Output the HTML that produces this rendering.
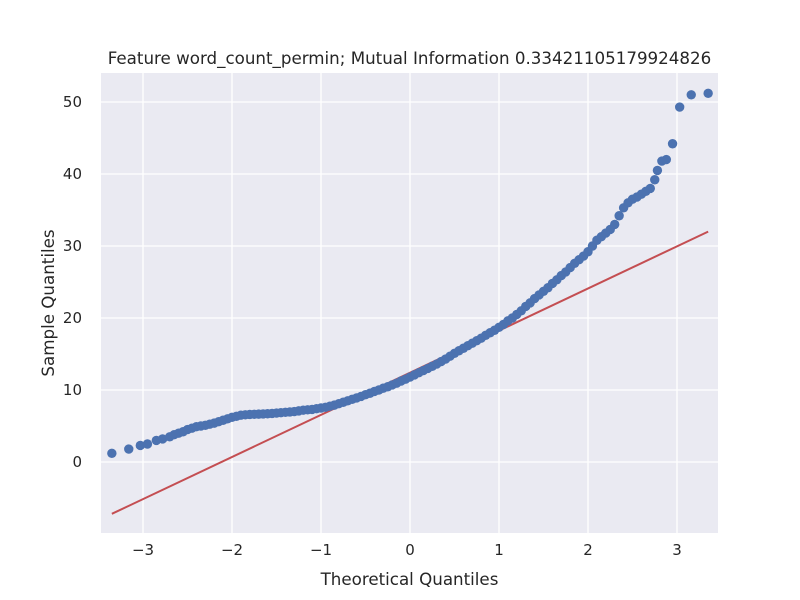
<!DOCTYPE html>
<html><head><meta charset="utf-8"><style>body{margin:0;background:#fff}svg{display:block;font-family:"DejaVu Sans","Liberation Sans",sans-serif}</style></head>
<body>
<svg id="chart" width="800" height="600" viewBox="0 0 800 600">
<rect x="0" y="0" width="800" height="600" fill="#fff"/>
<rect x="101" y="73" width="617" height="460" fill="#eaeaf2"/>
<g id="grid"></g>
<g id="ticks"></g>
<line id="refline" stroke="#c44e52" stroke-width="2"/>
<g id="pts"></g>
<text x="409.5" y="64" text-anchor="middle" font-size="16.7" fill="#262626">Feature word_count_permin; Mutual Information 0.33421105179924826</text>
<text x="409.5" y="585" text-anchor="middle" font-size="16.7" fill="#262626">Theoretical Quantiles</text>
<text transform="translate(54,303) rotate(-90)" text-anchor="middle" font-size="16.7" fill="#262626">Sample Quantiles</text>
</svg>
<script>
const xTicks=[-3,-2,-1,0,1,2,3];
const yTicks=[0,10,20,30,40,50];
const lineStart=[-3.35,-7.2];
const lineEnd=[3.35,32.0];
const theoretical=[-3.35,-3.16,-3.03,-2.95,-2.85,-2.78,-2.7,-2.65,-2.6,-2.55,
-2.5,-2.45,-2.4,-2.35,-2.3,-2.25,-2.2,-2.15,-2.1,-2.05,-2.0,-1.95,-1.9,-1.85,-1.8,-1.75,-1.7,-1.65,-1.6,-1.55,-1.5,-1.45,-1.4,-1.35,-1.3,-1.25,-1.2,-1.15,-1.1,-1.05,-1.0,-0.95,-0.9,-0.85,-0.8,-0.75,-0.7,-0.65,-0.6,-0.55,-0.5,-0.45,-0.4,-0.35,-0.3,-0.25,-0.2,-0.15,-0.1,-0.05,0,0.05,0.1,0.15,0.2,0.25,0.3,0.35,0.4,0.45,0.5,0.55,0.6,0.65,0.7,0.75,0.8,0.85,0.9,0.95,1.0,1.05,1.1,1.15,1.2,1.25,1.3,1.35,1.4,1.45,1.5,1.55,1.6,1.65,1.7,1.75,1.8,1.85,1.9,1.95,2.0,2.05,2.1,2.15,2.2,2.25,2.3,2.35,2.4,2.45,2.5,2.55,2.6,2.65,2.7,2.75,2.78,2.83,2.88,2.95,3.03,3.16,3.35];
const sample=[1.2,1.8,2.3,2.5,3.0,3.2,3.5,3.8,4.0,4.2,
4.5,4.7,4.9,5.0,5.1,5.25,5.4,5.6,5.8,6.0,6.2,6.35,6.5,6.55,6.6,6.62,6.65,6.68,6.7,6.75,6.8,6.85,6.9,6.95,7.0,7.1,7.2,7.25,7.3,7.4,7.5,7.6,7.75,7.9,8.1,8.3,8.5,8.7,8.9,9.1,9.35,9.55,9.8,10.0,10.25,10.45,10.7,10.95,11.25,11.5,11.8,12.1,12.4,12.7,13.0,13.3,13.6,13.95,14.3,14.7,15.1,15.45,15.8,16.15,16.5,16.85,17.2,17.6,17.95,18.3,18.7,19.1,19.6,20.0,20.5,21.0,21.6,22.1,22.7,23.2,23.7,24.2,24.8,25.3,25.9,26.4,27.0,27.6,28.1,28.6,29.2,30.0,30.8,31.3,31.8,32.3,33.0,34.2,35.3,36.0,36.5,36.8,37.2,37.6,38.0,39.2,40.5,41.8,42.0,44.2,49.3,51.0,51.2];
const X=v=>410+89*v, Y=v=>462-7.2*v;
const NS="http://www.w3.org/2000/svg";
const grid=document.getElementById('grid'),ticks=document.getElementById('ticks'),pts=document.getElementById('pts');
function mk(t,a,p){const e=document.createElementNS(NS,t);for(const k in a)e.setAttribute(k,a[k]);p.appendChild(e);return e;}
xTicks.forEach(v=>{
 const l=mk('line',{x1:X(v),x2:X(v),y1:73,y2:533,stroke:'#fff','stroke-width':1.3},grid);
 
 
 const t=mk('text',{x:X(v),y:555,'text-anchor':'middle','font-size':15,fill:'#262626'},ticks);
 t.textContent=(v<0?'\u2212'+(-v):v);
 
 
});
yTicks.forEach(v=>{
 const l=mk('line',{x1:101,x2:718,y1:Y(v),y2:Y(v),stroke:'#fff','stroke-width':1.3},grid);
 
 
 const t=mk('text',{x:82,y:Y(v)+5,'text-anchor':'end','font-size':15,fill:'#262626'},ticks);
 t.textContent=v;
 
 
});
const rl=document.getElementById('refline');
rl.setAttribute('x1',X(lineStart[0]));rl.setAttribute('y1',Y(lineStart[1]));
rl.setAttribute('x2',X(lineEnd[0]));rl.setAttribute('y2',Y(lineEnd[1]));
theoretical.forEach((q,i)=>{
 const c=mk('circle',{cx:X(q),cy:Y(sample[i]),r:4.7,fill:'#4c72b0'},pts);
 
 
});
</script>
</body></html>
